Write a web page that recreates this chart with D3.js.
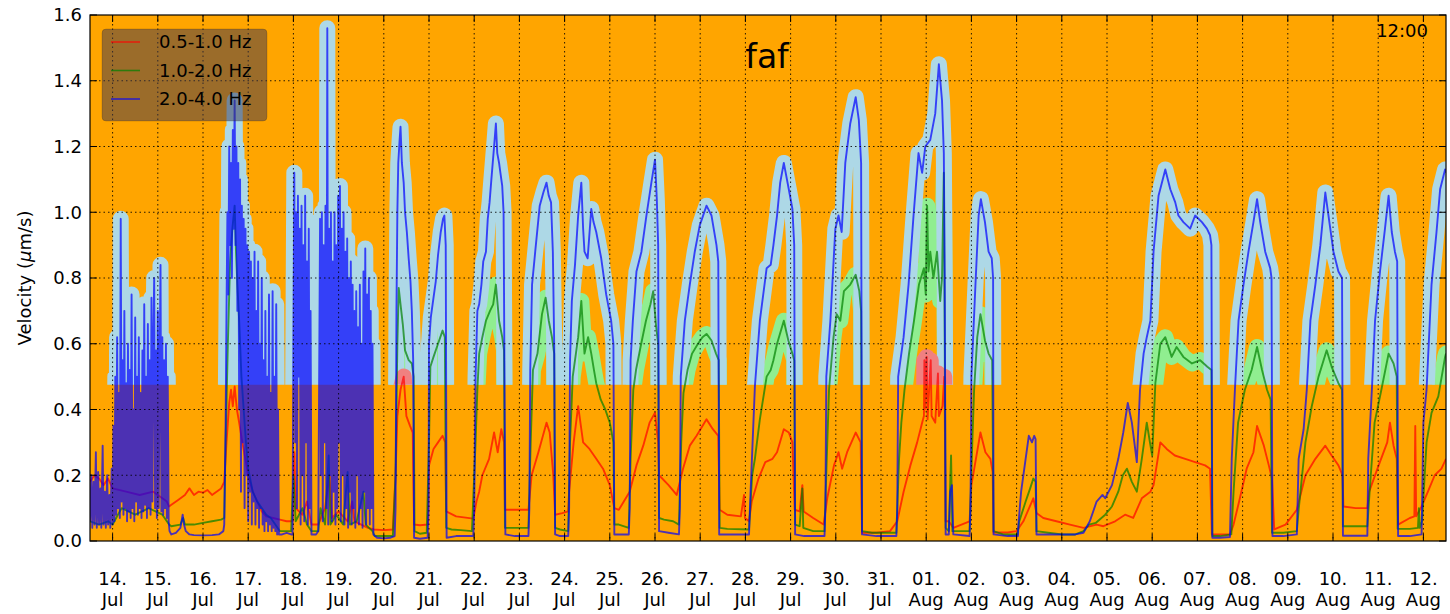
<!DOCTYPE html>
<html lang="en">
<head>
<meta charset="UTF-8">
<title>faf velocity</title>
<script src="https://d3js.org/d3.v7.min.js"></script>
<style>
 body {margin: 0; padding: 0; background: #fff;}
 svg {display: block; font-family: "DejaVu Sans", sans-serif;}
 .tick-label {font-size: 18px; fill: #000;}
</style>
</head>
<body>
<svg id="chart" width="1450" height="614"></svg>
<script>
// times are days after 14 Jul 00:00 (UTC), values in um/s
const red05to1 = [
 [-0.5,0.18],[-0.4,0.2],[-0.3,0.19],[-0.2,0.17],[-0.1,0.19],[0.0,0.16],[0.3,0.15],[0.6,0.14],[0.9,0.15],[1.2,0.12],
 [1.25,0.105],[1.3,0.11],[1.45,0.125],[1.6,0.14],[1.7,0.16],[1.8,0.14],[1.9,0.15],[2.0,0.147],[2.1,0.155],[2.2,0.14],[2.3,0.15],[2.4,0.16],[2.47,0.18],
 [2.52,0.3],[2.58,0.42],[2.62,0.46],[2.66,0.41],[2.7,0.47],[2.75,0.4],[2.8,0.36],[2.87,0.3],[2.95,0.24],[3.0,0.2],[3.1,0.15],[3.2,0.12],[3.3,0.09],[3.4,0.075],[3.55,0.07],[3.7,0.065],[3.85,0.06],[3.98,0.06],
 [4.02,0.27],[4.05,0.1],[4.2,0.08],[4.3,0.12],[4.4,0.05],[4.55,0.05],[4.7,0.1],[4.8,0.2],[4.85,0.07],[5.0,0.09],[5.2,0.06],[5.3,0.12],[5.35,0.06],[5.5,0.05],[5.65,0.04],[5.78,0.035],
 [6.0,0.033],[6.2,0.035],[6.26,0.2],[6.3,0.38],[6.37,0.46],[6.44,0.5],[6.5,0.38],[6.58,0.35],[6.64,0.33],[6.67,0.05],[6.8,0.048],[6.97,0.05],
 [7.0,0.23],[7.1,0.28],[7.2,0.3],[7.3,0.32],[7.36,0.3],[7.38,0.09],[7.6,0.075],[7.98,0.068],
 [8.05,0.12],[8.11,0.15],[8.18,0.2],[8.33,0.25],[8.44,0.33],[8.52,0.27],[8.6,0.34],[8.66,0.3],[8.68,0.095],[8.9,0.095],[9.2,0.095],
 [9.27,0.2],[9.42,0.27],[9.6,0.36],[9.67,0.33],[9.75,0.2],[9.79,0.08],[9.95,0.085],[10.08,0.09],
 [10.1,0.15],[10.2,0.3],[10.3,0.41],[10.41,0.3],[10.55,0.28],[10.7,0.25],[10.85,0.22],[11.0,0.17],[11.1,0.1],[11.2,0.095],[11.44,0.15],
 [11.59,0.23],[11.74,0.29],[11.88,0.36],[12.0,0.39],[12.07,0.3],[12.09,0.2],[12.3,0.17],[12.48,0.14],
 [12.62,0.22],[12.77,0.29],[12.92,0.32],[13.14,0.37],[13.28,0.34],[13.4,0.32],[13.43,0.095],[13.6,0.08],[13.9,0.075],[13.97,0.14],[13.99,0.07],[14.08,0.06],
 [14.14,0.12],[14.29,0.19],[14.44,0.24],[14.6,0.25],[14.7,0.27],[14.85,0.34],[14.96,0.33],[15.04,0.3],[15.09,0.095],[15.2,0.09],[15.26,0.17],[15.29,0.09],[15.5,0.07],[15.73,0.05],
 [15.81,0.13],[15.96,0.23],[16.06,0.27],[16.14,0.22],[16.25,0.27],[16.44,0.33],[16.55,0.3],[16.58,0.025],[16.9,0.025],[17.2,0.03],[17.36,0.06],
 [17.5,0.15],[17.65,0.23],[17.8,0.3],[17.91,0.36],[17.95,0.38],[17.96,0.55],[17.97,0.4],[18.01,0.56],[18.03,0.37],[18.1,0.55],[18.12,0.38],[18.2,0.36],[18.26,0.51],[18.28,0.38],[18.36,0.41],[18.4,0.5],[18.41,0.4],[18.43,0.06],
 [18.5,0.06],[18.6,0.04],[18.96,0.06],
 [19.0,0.17],[19.1,0.25],[19.2,0.33],[19.31,0.27],[19.42,0.25],[19.47,0.21],[19.49,0.026],[19.8,0.026],[20.0,0.03],
 [20.15,0.06],[20.37,0.13],[20.44,0.085],[20.59,0.07],[20.88,0.06],[21.18,0.05],[21.48,0.04],[21.77,0.05],[21.92,0.045],
 [22.18,0.06],[22.4,0.08],[22.58,0.07],[22.77,0.13],[22.96,0.15],[23.03,0.17],[23.18,0.3],[23.32,0.28],[23.5,0.26],[23.73,0.25],[23.95,0.24],[24.17,0.23],[24.28,0.22],[24.32,0.02],
 [24.5,0.02],[24.72,0.02],[24.8,0.05],[24.94,0.13],[25.09,0.22],[25.24,0.27],[25.32,0.35],[25.47,0.29],[25.58,0.23],[25.65,0.19],[25.7,0.035],[25.95,0.05],[26.2,0.095],
 [26.39,0.2],[26.61,0.25],[26.83,0.29],[26.97,0.26],[27.12,0.23],[27.21,0.2],[27.23,0.105],[27.5,0.1],[27.76,0.1],
 [27.8,0.15],[28.01,0.23],[28.2,0.3],[28.26,0.36],[28.34,0.29],[28.41,0.25],[28.44,0.05],[28.7,0.07],[28.8,0.075],[28.82,0.35],[28.84,0.075],[28.96,0.105],
 [29.1,0.15],[29.25,0.2],[29.4,0.22],[29.5,0.25]
];

const green1to2 = [
 [-0.5,0.06],[-0.3,0.05],[-0.1,0.06],[0.0,0.05],[0.2,0.1],[0.5,0.08],[0.8,0.1],[1.1,0.08],[1.25,0.05],
 [1.3,0.045],[1.5,0.05],[1.56,0.07],[1.6,0.05],[1.8,0.05],[2.0,0.055],[2.2,0.06],[2.4,0.065],[2.47,0.07],
 [2.5,0.3],[2.55,0.6],[2.6,0.85],[2.65,0.95],[2.7,1.02],[2.73,0.88],[2.76,0.78],[2.8,0.67],[2.85,0.5],[2.9,0.4],[2.95,0.3],[3.0,0.22],[3.1,0.15],[3.2,0.12],[3.3,0.1],[3.4,0.08],[3.5,0.07],[3.6,0.05],[3.7,0.03],[3.95,0.03],
 [4.0,0.2],[4.05,0.06],[4.2,0.1],[4.3,0.05],[4.4,0.03],[4.55,0.03],[4.6,0.1],[4.7,0.05],[4.78,0.26],[4.82,0.05],[4.95,0.08],[5.1,0.05],[5.2,0.21],[5.25,0.05],[5.4,0.06],[5.55,0.15],[5.6,0.05],[5.75,0.03],
 [5.8,0.015],[6.2,0.015],
 [6.26,0.2],[6.3,0.6],[6.33,0.77],[6.37,0.72],[6.42,0.66],[6.47,0.58],[6.55,0.55],[6.62,0.54],[6.66,0.5],[6.68,0.03],[6.8,0.022],[6.95,0.025],
 [7.0,0.3],[7.03,0.53],[7.1,0.56],[7.2,0.6],[7.3,0.64],[7.35,0.62],[7.38,0.04],[7.5,0.035],[7.7,0.033],[7.95,0.03],
 [8.03,0.3],[8.07,0.46],[8.11,0.57],[8.18,0.62],[8.26,0.67],[8.35,0.7],[8.42,0.72],[8.48,0.78],[8.55,0.67],[8.62,0.62],[8.66,0.58],[8.68,0.04],[8.9,0.04],[9.2,0.04],
 [9.25,0.3],[9.3,0.52],[9.4,0.57],[9.5,0.69],[9.58,0.74],[9.65,0.67],[9.72,0.62],[9.77,0.57],[9.79,0.04],[9.9,0.035],[10.08,0.03],
 [10.12,0.3],[10.18,0.5],[10.25,0.57],[10.3,0.62],[10.37,0.73],[10.44,0.57],[10.52,0.62],[10.59,0.57],[10.65,0.52],[10.7,0.48],[10.8,0.43],[10.9,0.4],[11.0,0.36],[11.08,0.3],[11.1,0.05],[11.2,0.05],[11.42,0.04],
 [11.46,0.25],[11.52,0.46],[11.58,0.52],[11.68,0.59],[11.8,0.67],[11.9,0.72],[11.96,0.76],[12.02,0.66],[12.07,0.6],[12.09,0.07],[12.2,0.065],[12.4,0.06],[12.53,0.05],
 [12.58,0.3],[12.63,0.45],[12.72,0.52],[12.82,0.57],[12.95,0.6],[13.05,0.62],[13.14,0.63],[13.25,0.61],[13.35,0.57],[13.41,0.55],[13.43,0.04],[13.6,0.037],[14.08,0.035],
 [14.15,0.2],[14.21,0.25],[14.32,0.37],[14.47,0.5],[14.56,0.52],[14.62,0.55],[14.7,0.6],[14.85,0.67],[14.95,0.61],[15.04,0.57],[15.08,0.55],[15.1,0.05],
 [15.2,0.045],[15.26,0.16],[15.28,0.04],[15.5,0.03],[15.75,0.03],
 [15.8,0.25],[15.85,0.46],[15.95,0.62],[16.02,0.69],[16.1,0.67],[16.18,0.76],[16.32,0.78],[16.44,0.81],[16.52,0.76],[16.56,0.7],[16.58,0.03],[16.8,0.025],[17.34,0.025],
 [17.4,0.25],[17.45,0.36],[17.52,0.46],[17.62,0.57],[17.73,0.67],[17.84,0.78],[17.95,0.83],[17.99,0.75],[18.02,1.02],[18.05,0.82],[18.09,0.88],[18.16,0.8],[18.24,0.88],[18.31,0.73],[18.35,0.8],[18.39,1.12],[18.41,0.6],[18.43,0.04],
 [18.5,0.03],[18.55,0.26],[18.58,0.03],[18.96,0.03],
 [19.02,0.3],[19.06,0.46],[19.13,0.62],[19.2,0.69],[19.3,0.61],[19.38,0.57],[19.46,0.55],[19.49,0.03],[19.7,0.02],[20.02,0.02],
 [20.06,0.06],[20.2,0.12],[20.3,0.16],[20.37,0.19],[20.42,0.18],[20.44,0.03],[20.7,0.025],[21.0,0.02],[21.3,0.02],[21.48,0.03],[21.6,0.05],[21.75,0.055],
 [21.96,0.08],[22.11,0.105],[22.25,0.15],[22.35,0.2],[22.44,0.22],[22.55,0.18],[22.66,0.15],[22.77,0.25],[22.88,0.36],[22.95,0.3],[23.0,0.26],[23.07,0.48],[23.18,0.6],[23.29,0.62],[23.43,0.56],[23.54,0.59],[23.69,0.56],[23.88,0.54],[24.06,0.55],[24.22,0.53],[24.31,0.52],[24.33,0.015],
 [24.5,0.015],[24.75,0.02],
 [24.8,0.15],[24.9,0.36],[25.05,0.46],[25.2,0.52],[25.32,0.59],[25.43,0.52],[25.54,0.46],[25.62,0.43],[25.65,0.025],[25.9,0.025],[26.2,0.03],
 [26.24,0.095],[26.39,0.3],[26.53,0.41],[26.68,0.5],[26.86,0.58],[26.97,0.53],[27.12,0.48],[27.2,0.46],[27.22,0.045],[27.5,0.045],[27.76,0.045],
 [27.81,0.15],[27.92,0.36],[28.07,0.46],[28.23,0.57],[28.34,0.54],[28.41,0.5],[28.43,0.037],[28.7,0.037],[28.88,0.04],[28.9,0.1],[28.92,0.04],[28.97,0.06],
 [29.07,0.3],[29.18,0.39],[29.33,0.44],[29.48,0.56],[29.5,0.57]
];

const blue2to4 = [
 [-0.5,0.06],[-0.47,0.2],[-0.45,0.04],[-0.42,0.18],[-0.4,0.05],[-0.37,0.27],[-0.35,0.04],[-0.32,0.21],[-0.3,0.05],[-0.27,0.16],[-0.25,0.04],[-0.22,0.29],[-0.2,0.05],[-0.17,0.15],[-0.15,0.04],[-0.12,0.2],[-0.1,0.05],[-0.07,0.14],[-0.05,0.04],[-0.02,0.22],[0.0,0.05],
 [0.02,0.35],[0.04,0.06],[0.06,0.5],[0.08,0.08],[0.1,0.62],[0.12,0.1],[0.14,0.45],[0.16,0.07],[0.18,0.98],[0.2,0.12],[0.22,0.55],[0.24,0.08],[0.26,0.7],[0.28,0.1],[0.3,0.48],[0.32,0.06],[0.34,0.6],[0.36,0.09],[0.38,0.52],[0.4,0.07],
 [0.42,0.75],[0.44,0.1],[0.46,0.4],[0.48,0.06],[0.5,0.68],[0.52,0.12],[0.54,0.5],[0.56,0.08],[0.58,0.62],[0.6,0.1],[0.62,0.45],[0.64,0.07],[0.66,0.58],[0.68,0.09],[0.7,0.72],[0.72,0.11],[0.74,0.5],[0.76,0.07],[0.78,0.66],[0.8,0.1],
 [0.82,0.55],[0.84,0.08],[0.86,0.74],[0.88,0.12],[0.9,0.6],[0.92,0.8],[0.94,0.1],[0.96,0.58],[0.98,0.07],[1.0,0.7],[1.02,0.1],[1.04,0.52],[1.06,0.84],[1.08,0.09],[1.1,0.62],[1.12,0.08],[1.14,0.55],[1.16,0.1],[1.18,0.6],[1.2,0.07],[1.22,0.5],[1.24,0.06],[1.26,0.03],
 [1.3,0.02],[1.4,0.025],[1.5,0.04],[1.55,0.08],[1.58,0.05],[1.62,0.03],[1.7,0.02],[1.8,0.018],[2.0,0.017],[2.2,0.018],[2.35,0.02],[2.45,0.03],
 [2.47,0.05],[2.5,0.35],[2.52,0.7],[2.54,1.0],[2.56,0.75],[2.58,1.2],[2.6,0.9],[2.62,1.15],[2.64,0.8],[2.66,1.25],[2.68,0.95],[2.7,1.34],[2.72,0.9],[2.74,1.2],[2.76,0.7],[2.78,1.15],[2.8,0.4],[2.82,1.1],[2.84,0.15],[2.86,1.02],
 [2.88,0.3],[2.9,0.98],[2.92,0.1],[2.94,0.95],[2.96,0.2],[2.98,0.9],[3.0,0.06],[3.02,0.88],[3.04,0.15],[3.06,0.85],[3.08,0.05],[3.1,0.8],[3.12,0.12],[3.14,0.88],[3.16,0.05],[3.18,0.7],[3.2,0.1],[3.22,0.85],[3.24,0.04],[3.26,0.6],
 [3.28,0.1],[3.3,0.8],[3.32,0.05],[3.34,0.55],[3.36,0.03],[3.38,0.7],[3.4,0.06],[3.42,0.5],[3.44,0.03],[3.46,0.75],[3.48,0.05],[3.5,0.45],[3.52,0.03],[3.54,0.76],[3.56,0.04],[3.58,0.5],[3.6,0.03],[3.62,0.72],[3.64,0.02],[3.66,0.4],[3.68,0.02],
 [3.75,0.02],[3.85,0.025],[3.95,0.02],[3.98,0.02],
 [4.0,0.6],[4.02,1.12],[4.04,0.3],[4.06,1.0],[4.08,0.1],[4.1,1.05],[4.12,0.5],[4.14,0.95],[4.16,0.05],[4.18,1.02],[4.2,0.2],[4.22,0.9],[4.24,0.06],[4.26,1.05],[4.28,0.3],[4.3,0.85],[4.32,0.05],[4.34,0.95],[4.36,0.1],[4.38,0.7],
 [4.4,0.02],[4.45,0.02],[4.5,0.02],[4.55,0.03],
 [4.57,0.5],[4.59,0.98],[4.61,0.2],[4.63,1.0],[4.65,0.06],[4.67,0.9],[4.69,0.3],[4.71,1.02],[4.73,0.1],[4.75,1.56],[4.77,0.05],[4.79,0.95],[4.81,0.2],[4.83,1.0],[4.85,0.06],[4.87,0.85],[4.89,0.15],[4.91,1.0],[4.93,0.05],[4.95,0.9],
 [4.97,0.1],[4.99,1.05],[5.01,0.3],[5.03,1.08],[5.05,0.06],[5.07,0.95],[5.09,0.2],[5.11,1.0],[5.13,0.05],[5.15,0.88],[5.17,0.1],[5.19,0.92],[5.21,0.04],[5.23,0.8],[5.25,0.15],[5.27,0.85],[5.29,0.05],[5.31,0.78],[5.33,0.1],[5.35,0.7],
 [5.37,0.04],[5.39,0.76],[5.41,0.2],[5.43,0.65],[5.45,0.05],[5.47,0.78],[5.49,0.1],[5.51,0.6],[5.53,0.04],[5.55,0.82],[5.57,0.15],[5.59,0.89],[5.61,0.05],[5.63,0.75],[5.65,0.1],[5.67,0.8],[5.69,0.05],[5.71,0.7],[5.73,0.1],[5.75,0.6],[5.77,0.02],
 [5.85,0.01],[6.0,0.008],[6.15,0.01],[6.24,0.015],
 [6.26,0.1],[6.28,0.7],[6.3,1.0],[6.32,1.15],[6.35,1.22],[6.37,1.26],[6.4,1.15],[6.44,1.09],[6.47,1.0],[6.51,0.94],[6.55,0.86],[6.59,0.79],[6.62,0.7],[6.65,0.55],[6.67,0.01],
 [6.8,0.007],[6.97,0.01],
 [6.99,0.1],[7.0,0.6],[7.04,0.68],[7.1,0.74],[7.15,0.79],[7.2,0.87],[7.26,0.94],[7.31,0.98],[7.34,0.99],[7.37,0.9],[7.39,0.01],
 [7.6,0.015],[7.98,0.015],
 [8.0,0.1],[8.03,0.5],[8.07,0.7],[8.11,0.72],[8.16,0.78],[8.2,0.85],[8.26,0.88],[8.3,0.98],[8.34,1.03],[8.38,1.1],[8.41,1.15],[8.44,1.2],[8.48,1.27],[8.51,1.18],[8.55,1.15],[8.58,1.12],[8.62,1.08],[8.65,1.0],[8.67,0.5],[8.69,0.02],
 [8.9,0.015],[9.2,0.015],
 [9.22,0.1],[9.24,0.52],[9.28,0.78],[9.35,0.88],[9.45,1.02],[9.53,1.06],[9.6,1.09],[9.65,1.05],[9.7,1.03],[9.74,0.88],[9.77,0.6],[9.79,0.02],
 [9.9,0.015],[10.08,0.015],
 [10.1,0.1],[10.12,0.55],[10.16,0.73],[10.23,0.84],[10.3,0.99],[10.37,1.09],[10.41,0.95],[10.44,0.88],[10.51,0.86],[10.59,1.01],[10.64,0.97],[10.7,0.94],[10.81,0.86],[10.92,0.75],[11.03,0.67],[11.08,0.6],[11.1,0.02],
 [11.25,0.02],[11.42,0.02],
 [11.44,0.1],[11.46,0.55],[11.51,0.67],[11.59,0.82],[11.7,0.88],[11.81,0.99],[11.92,1.09],[12.0,1.16],[12.04,1.04],[12.07,0.9],[12.09,0.03],
 [12.3,0.025],[12.53,0.02],
 [12.55,0.1],[12.57,0.5],[12.66,0.67],[12.77,0.78],[12.88,0.88],[12.99,0.96],[13.14,1.02],[13.25,0.99],[13.36,0.9],[13.4,0.85],[13.42,0.02],
 [13.7,0.02],[14.08,0.02],
 [14.1,0.1],[14.21,0.47],[14.32,0.67],[14.47,0.83],[14.56,0.84],[14.62,0.9],[14.7,0.99],[14.77,1.09],[14.85,1.15],[14.96,1.07],[15.04,1.01],[15.08,0.9],[15.1,0.02],
 [15.3,0.015],[15.75,0.015],
 [15.77,0.1],[15.79,0.5],[15.88,0.67],[15.99,0.95],[16.06,0.99],[16.13,0.94],[16.21,1.15],[16.32,1.27],[16.44,1.35],[16.51,1.28],[16.56,1.15],[16.58,0.02],
 [16.9,0.015],[17.34,0.015],
 [17.36,0.1],[17.38,0.5],[17.5,0.62],[17.61,0.78],[17.72,0.99],[17.83,1.18],[17.91,1.12],[17.98,1.2],[18.09,1.22],[18.2,1.3],[18.28,1.45],[18.35,1.34],[18.39,1.18],[18.41,0.8],[18.43,0.02],
 [18.5,0.02],[18.53,0.15],[18.57,0.17],[18.6,0.02],[18.96,0.015],
 [18.98,0.1],[19.0,0.5],[19.09,0.78],[19.16,0.99],[19.21,1.04],[19.3,0.97],[19.38,0.88],[19.45,0.86],[19.48,0.8],[19.49,0.02],
 [19.8,0.015],[20.03,0.015],
 [20.04,0.05],[20.1,0.15],[20.2,0.25],[20.27,0.32],[20.34,0.3],[20.39,0.32],[20.42,0.31],[20.44,0.02],
 [20.7,0.02],[21.0,0.02],[21.3,0.02],[21.48,0.025],[21.62,0.06],[21.77,0.12],[21.9,0.14],
 [21.96,0.13],[22.11,0.17],[22.25,0.25],[22.36,0.33],[22.46,0.42],[22.55,0.36],[22.66,0.24],[22.73,0.46],[22.81,0.57],[22.88,0.62],[22.96,0.67],[23.03,0.88],[23.14,1.05],[23.29,1.13],[23.4,1.07],[23.51,1.03],[23.58,0.99],[23.69,0.97],
 [23.84,0.95],[23.95,0.99],[24.1,0.97],[24.21,0.95],[24.28,0.93],[24.31,0.9],[24.33,0.01],
 [24.5,0.01],[24.72,0.012],
 [24.76,0.25],[24.83,0.46],[24.91,0.67],[25.02,0.78],[25.13,0.88],[25.24,0.97],[25.32,1.04],[25.39,0.97],[25.5,0.88],[25.61,0.83],[25.64,0.8],[25.66,0.015],
 [25.9,0.015],[26.2,0.02],
 [26.24,0.25],[26.35,0.34],[26.42,0.46],[26.5,0.67],[26.61,0.78],[26.72,0.9],[26.83,1.06],[26.9,0.99],[27.01,0.88],[27.12,0.82],[27.2,0.8],[27.22,0.016],
 [27.5,0.016],[27.76,0.016],
 [27.78,0.25],[27.86,0.46],[27.93,0.67],[28.04,0.82],[28.15,0.95],[28.23,1.05],[28.3,0.94],[28.37,0.88],[28.42,0.85],[28.44,0.015],
 [28.7,0.015],[28.96,0.02],
 [29.0,0.36],[29.07,0.46],[29.18,0.78],[29.29,0.94],[29.37,1.07],[29.48,1.13],[29.5,1.12]
];

const bandNames = ["0.5-1.0 Hz", "1.0-2.0 Hz", "2.0-4.0 Hz"];
const yTicks = [0, 0.2, 0.4, 0.6, 0.8, 1.0, 1.2, 1.4, 1.6];
const threshold = 0.475;

const W = 1450, H = 614;
const m = {left: 90, right: 4, top: 15, bottom: 73};
const pw = W - m.left - m.right, ph = H - m.top - m.bottom;

const t0 = Date.UTC(2015, 6, 14);
const toDate = d => new Date(t0 + d * 864e5);

const x = d3.scaleUtc().domain([toDate(-0.5), toDate(29.5)]).range([m.left, m.left + pw]);
const y = d3.scaleLinear().domain([0, 1.6]).range([m.top + ph, m.top]);

const svg = d3.select('#chart');
const defs = svg.append('defs');
defs.append('clipPath').attr('id', 'plot-clip').append('rect')
  .attr('x', m.left).attr('y', m.top).attr('width', pw).attr('height', ph);
defs.append('clipPath').attr('id', 'halo-clip').append('rect')
  .attr('x', m.left).attr('y', m.top).attr('width', pw).attr('height', y(threshold) - m.top);

svg.append('rect').attr('x', m.left).attr('y', m.top).attr('width', pw).attr('height', ph)
  .attr('fill', '#ffa500');

// thick pale band where a series goes above the threshold
function haloPath(pts) {
  const on = pts.map((p, i) => p[1] > threshold ||
    (i > 0 && pts[i - 1][1] > threshold) || (i < pts.length - 1 && pts[i + 1][1] > threshold));
  return d3.line().defined((p, i) => on[i])
    .x(p => x(toDate(p[0]))).y(p => y(p[1]))(pts);
}
const line = d3.line().x(p => x(toDate(p[0]))).y(p => y(p[1]));

const halos = svg.append('g').attr('clip-path', 'url(#halo-clip)')
  .attr('fill', 'none').attr('stroke-width', 16)
  .attr('stroke-linejoin', 'round').attr('stroke-linecap', 'round');
[[green1to2, '#90ee90'], [blue2to4, '#add8e6'], [red05to1, '#f08080']].forEach(([s, c]) => {
  halos.append('path').attr('d', haloPath(s)).attr('stroke', c);
});

const lines = svg.append('g').attr('clip-path', 'url(#plot-clip)')
  .attr('fill', 'none').attr('stroke-width', 1.9).attr('stroke-linejoin', 'round');
const colors = ['#ff0000', '#008000', '#0000ff'];
[red05to1, green1to2, blue2to4].forEach((s, i) => {
  lines.append('path').attr('d', line(s)).attr('stroke', colors[i]).attr('stroke-opacity', 0.7);
});

// grid and ticks
const days = d3.utcDay.range(toDate(0), toDate(29.6));
const grid = svg.append('g').attr('stroke', '#000').attr('stroke-width', 1)
  .attr('stroke-dasharray', '1.5,3').attr('stroke-opacity', 0.85);
days.forEach(d => grid.append('line').attr('x1', x(d)).attr('x2', x(d))
  .attr('y1', m.top).attr('y2', m.top + ph));
yTicks.slice(1, -1).forEach(v => grid.append('line').attr('x1', m.left).attr('x2', m.left + pw)
  .attr('y1', y(v)).attr('y2', y(v)));

const ticks = svg.append('g').attr('stroke', '#000').attr('stroke-width', 1);
days.forEach(d => {
  ticks.append('line').attr('x1', x(d)).attr('x2', x(d)).attr('y1', m.top + ph).attr('y2', m.top + ph - 7);
  ticks.append('line').attr('x1', x(d)).attr('x2', x(d)).attr('y1', m.top).attr('y2', m.top + 7);
});
yTicks.forEach(v => {
  ticks.append('line').attr('x1', m.left).attr('x2', m.left + 7).attr('y1', y(v)).attr('y2', y(v));
  ticks.append('line').attr('x1', m.left + pw).attr('x2', m.left + pw - 7).attr('y1', y(v)).attr('y2', y(v));
});

svg.append('rect').attr('x', m.left).attr('y', m.top).attr('width', pw).attr('height', ph)
  .attr('fill', 'none').attr('stroke', '#000').attr('stroke-width', 1.2);

const fmtDay = d3.utcFormat('%d.'), fmtMon = d3.utcFormat('%b');
days.forEach(d => {
  const t = svg.append('text').attr('class', 'tick-label').attr('text-anchor', 'middle');
  t.append('tspan').attr('x', x(d)).attr('y', 585).text(fmtDay(d));
  t.append('tspan').attr('x', x(d)).attr('y', 606).text(fmtMon(d));
});
yTicks.forEach(v => {
  svg.append('text').attr('class', 'tick-label').attr('text-anchor', 'end')
    .attr('x', 82).attr('y', y(v)).attr('dy', '0.36em').text(v.toFixed(1));
});

const yl = svg.append('text').attr('class', 'tick-label').attr('text-anchor', 'middle')
  .attr('transform', `translate(31,${m.top + ph / 2}) rotate(-90)`);
yl.append('tspan').text('Velocity (');
yl.append('tspan').attr('font-style', 'italic').text('μ');
yl.append('tspan').text('m/s)');

svg.append('text').attr('x', 767).attr('y', 68).attr('text-anchor', 'middle')
  .attr('font-size', 33).text('faf');
svg.append('text').attr('x', 1428).attr('y', 37).attr('text-anchor', 'end')
  .attr('font-size', 18).text('12:00');

// legend
const lg = svg.append('g');
lg.append('rect').attr('x', 102).attr('y', 29).attr('width', 165).attr('height', 92).attr('rx', 4)
  .attr('fill', 'rgb(55,51,84)').attr('fill-opacity', 0.5).attr('stroke', 'rgba(0,0,0,0.15)');
bandNames.forEach((n, i) => {
  const ly = 42 + i * 28.5;
  lg.append('line').attr('x1', 111).attr('x2', 140).attr('y1', ly).attr('y2', ly)
    .attr('stroke', colors[i]).attr('stroke-opacity', 0.7).attr('stroke-width', 1.6);
  lg.append('text').attr('class', 'tick-label').attr('x', 159).attr('y', ly).attr('dy', '0.36em').text(n);
});
</script>
</body>
</html>
